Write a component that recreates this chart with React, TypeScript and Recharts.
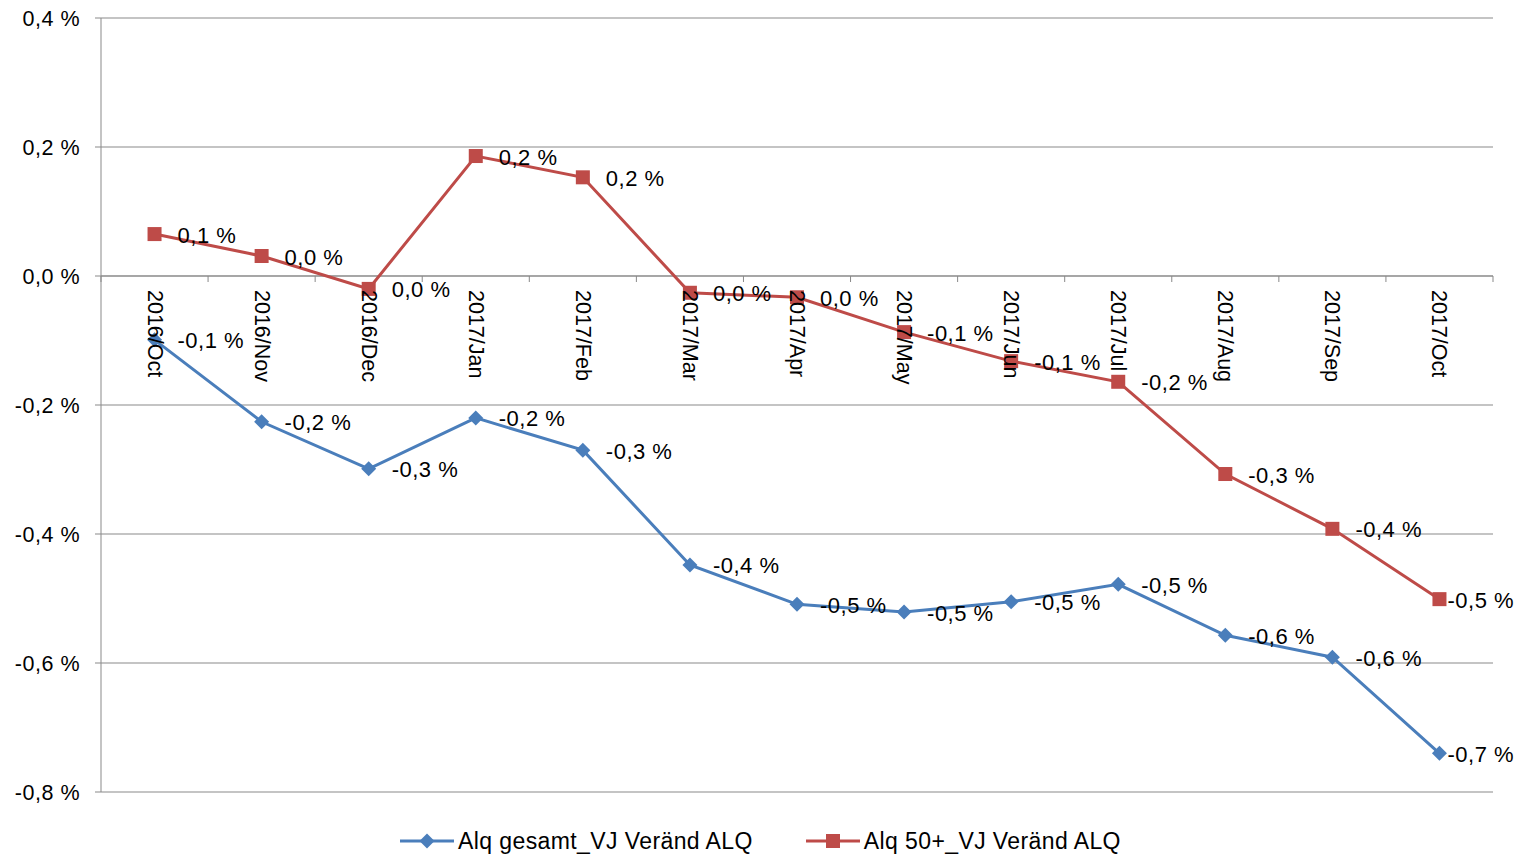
import { CartesianGrid, Legend, LabelList, Line, LineChart, ReferenceLine, XAxis, YAxis } from 'recharts';

const months = [
  '2016/Oct', '2016/Nov', '2016/Dec', '2017/Jan', '2017/Feb', '2017/Mar', '2017/Apr',
  '2017/May', '2017/Jun', '2017/Jul', '2017/Aug', '2017/Sep', '2017/Oct',
];
const alqGesamt = [-0.099, -0.226, -0.299, -0.22, -0.27, -0.448, -0.509, -0.521, -0.505, -0.478, -0.557, -0.591, -0.74];
const alq50 = [0.065, 0.031, -0.02, 0.186, 0.153, -0.026, -0.033, -0.087, -0.132, -0.164, -0.307, -0.392, -0.501];
const yTicks = [-0.8, -0.6, -0.4, -0.2, 0, 0.2, 0.4];

const BLUE = '#4A7EBB';
const RED = '#BE4B48';
const GRID = '#898989';
const FONT = '"Liberation Sans", Arial, sans-serif';

const W = 1521;
const H = 854;
const X_AXIS_H = 20;
const margin = { top: 18, right: 28, left: 0, bottom: 12 };
const Y_AXIS_W = 101;
const PLOT_TOP = 18;
const PLOT_BOTTOM = 792;
const PLOT_W = W - Y_AXIS_W - margin.right;
const Y_MAX = 0.4;
const Y_MIN = -0.8;
const ZERO_Y = PLOT_TOP + ((PLOT_BOTTOM - PLOT_TOP) * Y_MAX) / (Y_MAX - Y_MIN);

const data = months.map((m, i) => ({ month: m, gesamt: alqGesamt[i], plus50: alq50[i] }));

const fmt = (v: number) => {
  let s = v.toFixed(1);
  if (s === '-0.0') s = '0.0';
  return s.replace('.', ',') + ' %';
};

// category labels sit under the zero line, turned 90° like in the workbook
const MonthTick = (props: any) => {
  const { x, payload, index } = props;
  const bw = PLOT_W / months.length;
  const ty = ZERO_Y + 14;
  return (
    <g>
      <line x1={x - bw / 2} x2={x - bw / 2} y1={ZERO_Y} y2={ZERO_Y + 6} stroke={GRID} />
      {index === months.length - 1 && (
        <line x1={x + bw / 2} x2={x + bw / 2} y1={ZERO_Y} y2={ZERO_Y + 6} stroke={GRID} />
      )}
      <text
        x={x}
        y={ty}
        transform={`rotate(90 ${x} ${ty})`}
        textAnchor="start"
        dominantBaseline="central"
        fontSize={21.5}
        fontFamily={FONT}
        fill="#000"
      >
        {payload.value}
      </text>
    </g>
  );
};

const makeLabel = (props: any) => {
  const { x, y, value, index } = props;
  const dx = index === months.length - 1 ? 8 : 23;
  return (
    <text
      x={x + dx}
      y={y + 1}
      dominantBaseline="central"
      fontSize={22}
      letterSpacing={0.5}
      fontFamily={FONT}
      fill="#000"
    >
      {fmt(value)}
    </text>
  );
};

const Diamond = (props: any) => {
  const { cx, cy } = props;
  if (cx == null || cy == null) return null;
  return <path d={`M${cx},${cy - 7.5}L${cx + 7.5},${cy}L${cx},${cy + 7.5}L${cx - 7.5},${cy}Z`} fill={BLUE} />;
};

const Square = (props: any) => {
  const { cx, cy } = props;
  if (cx == null || cy == null) return null;
  return <rect x={cx - 7} y={cy - 7} width={14} height={14} fill={RED} />;
};

const LegendBox = () => (
  <div
    style={{
      height: 30,
      display: 'flex',
      justifyContent: 'center',
      alignItems: 'center',
      gap: 53,
      fontFamily: FONT,
      fontSize: 23,
      letterSpacing: 0.4,
      color: '#000',
    }}
  >
    {[
      { name: 'Alq gesamt_VJ Veränd ALQ', color: BLUE, mark: 'diamond' },
      { name: 'Alq 50+_VJ Veränd ALQ', color: RED, mark: 'square' },
    ].map((it) => (
      <div key={it.name} style={{ display: 'flex', alignItems: 'center' }}>
        <svg width={58} height={20}>
          <line x1={0} x2={54} y1={10} y2={10} stroke={it.color} strokeWidth={3} />
          {it.mark === 'diamond' ? (
            <path d="M27,2.5L34.5,10L27,17.5L19.5,10Z" fill={it.color} />
          ) : (
            <rect x={20} y={3} width={14} height={14} fill={it.color} />
          )}
        </svg>
        <span>{it.name}</span>
      </div>
    ))}
  </div>
);

export default function App() {
  return (
    <div style={{ position: 'absolute', left: 0, top: 0, background: '#fff' }}>
      <LineChart width={W} height={H} data={data} margin={margin}>
        <CartesianGrid vertical={false} stroke={GRID} strokeWidth={1} />
        <XAxis
          dataKey="month"
          scale="band"
          height={X_AXIS_H}
          axisLine={false}
          tickLine={false}
          interval={0}
          tick={<MonthTick />}
        />
        <YAxis
          width={Y_AXIS_W}
          domain={[Y_MIN, Y_MAX]}
          ticks={yTicks}
          allowDataOverflow
          stroke={GRID}
          tickSize={6}
          tickMargin={15}
          tickFormatter={fmt}
          tick={{ fontSize: 21.5, fontFamily: FONT, fill: '#000', letterSpacing: 0.5 }}
        />
        <ReferenceLine y={0} stroke={GRID} strokeWidth={1} />
        <Legend
          verticalAlign="bottom"
          content={<LegendBox />}
          wrapperStyle={{ top: 826, bottom: 'auto', left: 0, width: W }}
        />
        <Line
          type="linear"
          dataKey="gesamt"
          name="Alq gesamt_VJ Veränd ALQ"
          stroke={BLUE}
          strokeWidth={3}
          dot={<Diamond />}
          activeDot={false}
          isAnimationActive={false}
        >
          <LabelList dataKey="gesamt" content={makeLabel} />
        </Line>
        <Line
          type="linear"
          dataKey="plus50"
          name="Alq 50+_VJ Veränd ALQ"
          stroke={RED}
          strokeWidth={3}
          dot={<Square />}
          activeDot={false}
          isAnimationActive={false}
        >
          <LabelList dataKey="plus50" content={makeLabel} />
        </Line>
      </LineChart>
    </div>
  );
}
